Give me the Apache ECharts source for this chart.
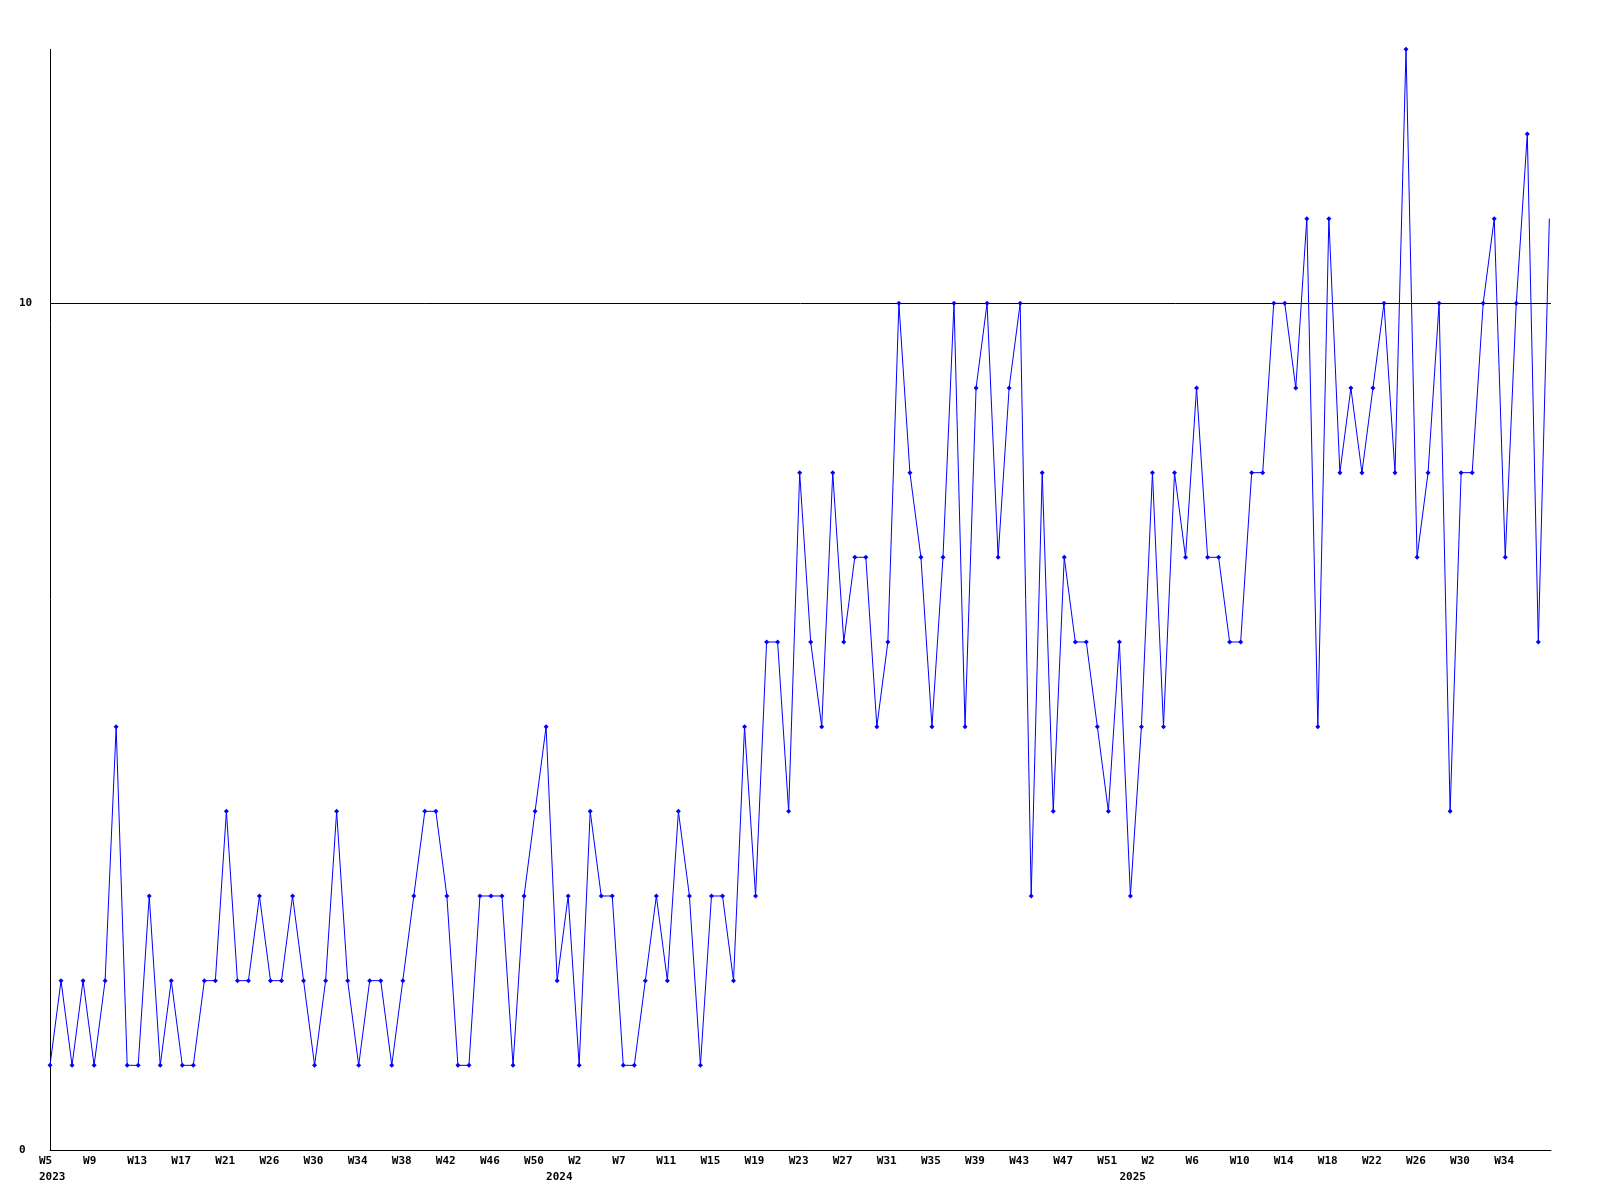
<!DOCTYPE html>
<html>
<head>
<meta charset="utf-8">
<script src="https://cdn.jsdelivr.net/npm/echarts@6/dist/echarts.min.js"></script>
<style>
html,body{margin:0;padding:0;background:#ffffff;}
#chart{width:1600px;height:1200px;}
</style>
</head>
<body>
<div id="chart"></div>
<script>
// Weekly values, 2023 W5 .. 2025 W38 (one point per week shown)
const values = [
  1,2,1,2,1,2,5,1,1,3,1,2,1,1,2,2,4,2,2,3,2,2,3,2,1,2,4,2,1,2,2,1,2,3,4,4,3,1,1,3,3,3,1,3,4,5,2,
  3,1,4,3,3,1,1,2,3,2,4,3,1,3,3,2,5,3,
  6,6,4,8,6,5,8,6,7,7,5,6,10,8,7,5,7,10,5,9,10,7,9,10,3,8,4,7,6,6,5,4,6,3,5,
  8,5,8,7,9,7,7,6,6,8,8,10,10,9,11,5,11,8,9,8,9,10,8,13,7,8,10,4,8,8,10,11,7,10,12,6,11
];

// X tick labels, one every 4th point
const weekTickLabels = [
  'W5','W9','W13','W17','W21','W26','W30','W34','W38','W42','W46','W50',
  'W2','W7','W11','W15','W19','W23','W27','W31','W35','W39','W43','W47',
  'W51','W2','W6','W10','W14','W18','W22','W26','W30','W34'
];
const weekTickStep = 4;

// Year labels and the point index they sit under
const yearLabels = ['2023','2024','2025'];
const yearLabelIndex = [0, 46, 98];

// Y tick values
const yTickValues = [0, 10];
const yMax = 13;

// ---------- build ----------
const FONT = {fontFamily:'DejaVu Sans Mono', fontWeight:'bold', fontSize:11, color:'#000000'};
const X_MAX = 136.15;
const GRID_LEFT = 50, GRID_W = 1501, GRID_TOP = 49.3, GRID_H = 1100.7;
const STEP_PX = GRID_W / X_MAX;

const weekTickIndex = weekTickLabels.map((_, k) => k * weekTickStep);
const weekLabelAt = {};
weekTickIndex.forEach((i, k) => { weekLabelAt[i - 1] = weekTickLabels[k]; });
const yearLabelAt = {};
yearLabelIndex.forEach((i, k) => { yearLabelAt[i - 1] = yearLabels[k]; });

const chart = echarts.init(document.getElementById('chart'), null, {renderer:'canvas'});
const labelGrid = {left: GRID_LEFT - STEP_PX, width: GRID_W + STEP_PX, top: GRID_TOP, height: GRID_H};
const hiddenAxisParts = {axisLine:{show:false}, axisTick:{show:false}, splitLine:{show:false}};

const seriesData = values.map((v, i) =>
  i === values.length - 1 ? {value:[i, v], symbol:'none'} : [i, v]);

chart.setOption({
  animation: false,
  backgroundColor: '#ffffff',
  grid: [
    {left: GRID_LEFT, width: GRID_W, top: GRID_TOP, height: GRID_H},
    labelGrid,
    Object.assign({}, labelGrid)
  ],
  xAxis: [
    {type:'value', gridIndex:0, min:0, max:X_MAX,
      axisLine:{show:true, onZero:false, lineStyle:{color:'#000000', width:1}},
      axisTick:{show:false}, axisLabel:{show:false}, splitLine:{show:false}},
    Object.assign({type:'value', gridIndex:1, min:-1, max:X_MAX,
      axisLabel:Object.assign({}, FONT, {align:'left', margin:6,
        customValues: weekTickIndex.map(i => i - 1),
        formatter: v => weekLabelAt[Math.round(v)] || ''})}, hiddenAxisParts),
    Object.assign({type:'value', gridIndex:2, min:-1, max:X_MAX,
      axisLabel:Object.assign({}, FONT, {align:'left', margin:22,
        customValues: yearLabelIndex.map(i => i - 1),
        formatter: v => yearLabelAt[Math.round(v)] || ''})}, hiddenAxisParts)
  ],
  yAxis: [
    {type:'value', gridIndex:0, min:0, max:yMax, interval:10,
      axisLine:{show:true, lineStyle:{color:'#000000', width:1}},
      axisTick:{show:false, customValues: yTickValues},
      axisLabel:Object.assign({}, FONT, {align:'left', margin:31, customValues: yTickValues}),
      splitLine:{show:true, lineStyle:{color:'#000000', width:1}}},
    {type:'value', gridIndex:1, min:0, max:yMax, show:false},
    {type:'value', gridIndex:2, min:0, max:yMax, show:false}
  ],
  series: [{
    type:'line', xAxisIndex:0, yAxisIndex:0,
    data: seriesData,
    symbol:'diamond', symbolSize:5, showAllSymbol:true,
    lineStyle:{color:'#0000ff', width:1},
    itemStyle:{color:'#0000ff'},
    emphasis:{disabled:true}
  }]
});
</script>
</body>
</html>
